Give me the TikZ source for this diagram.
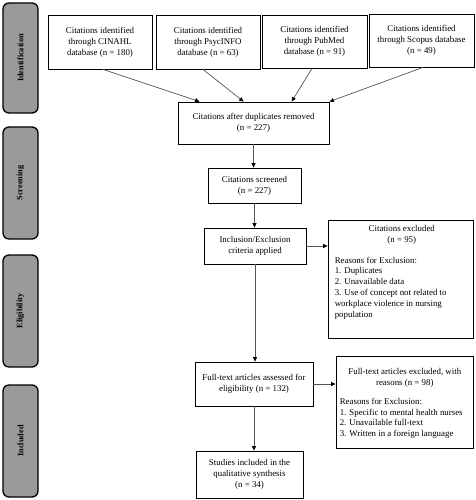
\documentclass[tikz,border=0pt]{standalone}
\usepackage{fontspec}
\setmainfont{Liberation Serif}
\usetikzlibrary{arrows.meta,positioning,calc}
\definecolor{phase}{HTML}{9A9A9A}
\definecolor{conn}{HTML}{555555}
\tikzset{
  box/.style={draw=black, line width=0.8bp, inner sep=0pt, align=center,
    font=\fontsize{8.9}{11.2}\selectfont},
  phasebox/.style={draw=black, line width=1.3bp, fill=phase, rounded corners=6bp,
    minimum width=35bp, minimum height=110bp, inner sep=0pt},
  phasetext/.style={rotate=90, font=\fontsize{8.3}{10}\selectfont\bfseries},
  txt/.style={inner sep=0pt, align=left, font=\fontsize{8.9}{11}\selectfont},
  arr/.style={draw=conn, line width=0.7bp, -{Triangle[length=4.5bp,width=4bp,fill=black,color=black]}},
}
\begin{document}
\begin{tikzpicture}[x=1bp,y=-1bp]
\useasboundingbox (0,0) rectangle (476,500);
% phase labels
\node[phasebox] (pid) at (20.5,58) {};
\node[phasetext] (pidt) at (pid.center) {Identification};
\node[phasebox, minimum height=112bp] (psc) at (20.5,183) {};
\node[phasetext] (psct) at (psc.center) {Screening};
\node[phasebox, minimum height=112bp] (pel) at (20.5,311) {};
\node[phasetext] (pelt) at (pel.center) {Eligibility};
\node[phasebox, minimum height=112bp] (pin) at (20.5,441) {};
\node[phasetext] (pint) at (pin.center) {Included};
% top boxes
\node[box, minimum width=104bp, minimum height=54bp] (cin) at (100,42) {Citations identified\\through CINAHL\\database (n = 180)};
\node[box, minimum width=104bp, minimum height=54bp] (psy) at (208,42) {Citations identified\\through PsycINFO\\database (n = 63)};
\node[box, minimum width=105bp, minimum height=53bp] (pub) at (314.5,41.5) {Citations identified\\through PubMed\\database (n = 91)};
\node[box, minimum width=105bp, minimum height=53bp] (sco) at (421.5,40.5) {Citations identified\\through Scopus database\\(n = 49)};
% flow
\node[box, minimum width=151bp, minimum height=42bp] (dup) at (253.5,123) {Citations after duplicates removed\\(n = 227)};
\node[box, minimum width=93bp, minimum height=35bp] (scr) at (254.5,185.5) {Citations screened\\(n = 227)};
\node[box, minimum width=102bp, minimum height=36bp] (inc) at (255,246) {Inclusion/Exclusion\\criteria applied};
\node[box, minimum width=145bp, minimum height=118bp] (exa) at (400.5,279) {};
\node[txt, anchor=north west] (exat) at ([xshift=7bp,yshift=-6bp]exa.north west) {%
\parbox{134bp}{\centering Citations excluded\\(n = 95)}\\[11bp]
Reasons for Exclusion:\\
1. Duplicates\\
2. Unavailable data\\
3. Use of concept not related to\\
workplace violence in nursing\\
population};
\node[box, minimum width=137bp, minimum height=92bp] (exb) at (404.5,402) {};
\node[txt, anchor=north west] (exbt) at ([xshift=4bp,yshift=-13bp]exb.north west) {%
\parbox{130bp}{\centering Full-text articles excluded, with\\reasons (n = 98)}\\[9bp]
Reasons for Exclusion:\\
1. Specific to mental health nurses\\
2. Unavailable full-text\\
3. Written in a foreign language};
\node[box, minimum width=118bp, minimum height=44bp] (ful) at (254,384) {Full-text articles assessed for\\eligibility (n = 132)};
\node[box, minimum width=107bp, minimum height=47bp] (stu) at (249.5,474.5) {Studies included in the\\qualitative synthesis\\(n = 34)};
% connectors
\draw[arr] ([xshift=3bp]cin.south) -- ([xshift=22bp]dup.north west);
\draw[arr] ([xshift=-5bp]psy.south) -- ([xshift=66bp]dup.north west);
\draw[arr] ([xshift=-2.5bp]pub.south) -- ([xshift=114bp]dup.north west);
\draw[arr] ([xshift=1.5bp]sco.south) -- (dup.north east);
\draw[arr] (dup.south) -- (dup.south |- scr.north);
\draw[arr] (scr.south) -- (scr.south |- inc.north);
\draw[arr] (inc.east) -- (inc.east -| exa.west);
\draw[arr] (inc.south) -- (inc.south |- ful.north);
\draw[arr] (ful.east) -- (ful.east -| exb.west);
\draw[arr] (ful.south) -- (ful.south |- stu.north);
\end{tikzpicture}
\end{document}
